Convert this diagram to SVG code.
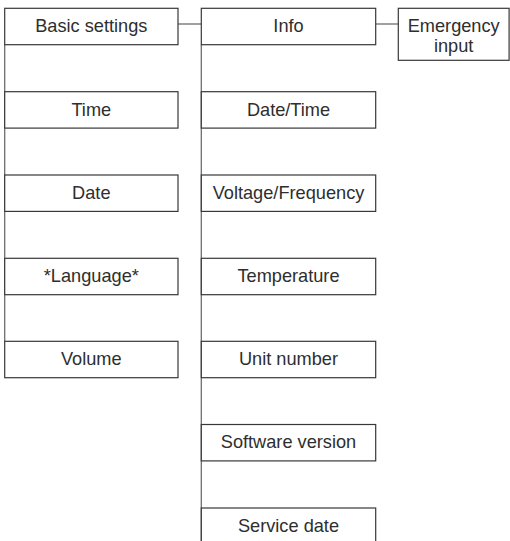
<svg xmlns="http://www.w3.org/2000/svg" width="510" height="541" viewBox="0 0 510 541">
<style>
.box{fill:#fff;stroke:#383838;stroke-width:1.2}
.t{font-family:"Liberation Sans",Arial,sans-serif;font-size:18.2px;fill:#2e2e2e;text-anchor:middle}
.c{stroke:#6e6e6e;stroke-width:1.3;fill:none}
</style>
<rect width="510" height="541" fill="#fff"/>
<g id="connectors">
<line class="c" x1="4.7" y1="44.7" x2="4.7" y2="341.3"/>
<line class="c" x1="201.3" y1="44.7" x2="201.3" y2="541"/>
<line class="c" x1="178" y1="24" x2="201.3" y2="24"/>
<line class="c" x1="375.7" y1="24" x2="398.3" y2="24"/>
</g>
<g id="basic-settings"><rect class="box" x="4.7" y="8.3" width="173.3" height="36.4"/><text class="t" x="91.3" y="32.2">Basic settings</text></g>
<g id="time"><rect class="box" x="4.7" y="91.7" width="173.3" height="36.4"/><text class="t" x="91.3" y="115.6">Time</text></g>
<g id="date"><rect class="box" x="4.7" y="175" width="173.3" height="36.4"/><text class="t" x="91.3" y="198.9">Date</text></g>
<g id="language"><rect class="box" x="4.7" y="258.3" width="173.3" height="36.4"/><text class="t" x="91.3" y="282.2">*Language*</text></g>
<g id="volume"><rect class="box" x="4.7" y="341.3" width="173.3" height="36.4"/><text class="t" x="91.3" y="365.2">Volume</text></g>
<g id="info"><rect class="box" x="201.3" y="8.3" width="174.4" height="36.4"/><text class="t" x="288.5" y="32.2">Info</text></g>
<g id="date-time"><rect class="box" x="201.3" y="91.7" width="174.4" height="36.4"/><text class="t" x="288.5" y="115.6">Date/Time</text></g>
<g id="voltage-frequency"><rect class="box" x="201.3" y="175" width="174.4" height="36.4"/><text class="t" x="288.5" y="198.9">Voltage/Frequency</text></g>
<g id="temperature"><rect class="box" x="201.3" y="258.3" width="174.4" height="36.4"/><text class="t" x="288.5" y="282.2">Temperature</text></g>
<g id="unit-number"><rect class="box" x="201.3" y="341.3" width="174.4" height="36.4"/><text class="t" x="288.5" y="365.2">Unit number</text></g>
<g id="software-version"><rect class="box" x="201.3" y="424.5" width="174.4" height="36.4"/><text class="t" x="288.5" y="448.4">Software version</text></g>
<g id="service-date"><rect class="box" x="201.3" y="508" width="174.4" height="36.4"/><text class="t" x="288.5" y="531.9">Service date</text></g>
<g id="emergency-input"><rect class="box" x="398.3" y="8.3" width="110.8" height="52"/><text class="t" x="453.7" y="32.2">Emergency</text><text class="t" x="453.7" y="52">input</text></g>
</svg>
